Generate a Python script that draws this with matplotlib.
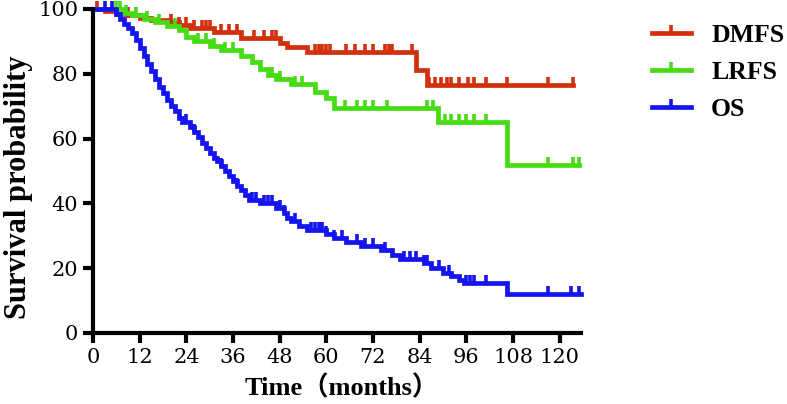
# -*- coding: UTF-8 -*-
import matplotlib as mpl
mpl.use('Agg')
import matplotlib.pyplot as plt
from matplotlib.lines import Line2D

# Kaplan-Meier steps: (time in months, survival %)
dmfs_t = [0, 3, 6, 9, 12, 15, 19, 22, 25, 31, 38, 48, 50, 55, 83, 86, 123.5]
dmfs_s = [100, 99.3, 98.6, 98.0, 97.3, 96.6, 95.9, 95.2, 94.0, 92.8, 91.2, 89.6, 88.3, 86.6, 81.2, 76.6, 76.6]
dmfs_cens = [1, 9, 20, 22, 24, 26, 28, 29, 30, 33, 35, 37, 41.5, 44, 46, 47, 57, 58, 59, 60, 61,
             65, 67.5, 70, 72, 75, 76, 77, 82, 86.5, 88, 89.5, 91, 92, 94, 96.5, 98, 101,
             106.5, 117, 123.5]

lrfs_t = [0, 8, 10, 13, 16, 19, 22, 24, 26, 30, 33, 38, 41, 43, 45, 47, 51, 57, 60, 62,
          88.7, 106.5, 125]
lrfs_s = [100, 98.9, 98.0, 97.0, 96.0, 94.8, 93.6, 91.5, 90.0, 88.6, 87.3, 85.5, 83.5, 81.5,
          79.5, 78.5, 77.0, 74.5, 72.5, 69.4, 65.2, 51.8, 51.8]
lrfs_cens = [6, 7, 8.5, 11, 14, 17, 21, 27, 29, 31, 34, 36, 46, 48, 52, 53.7, 57, 64.8, 67.8,
             70, 72, 75.5, 86, 87.5, 90.5, 92, 94, 96, 98, 101, 117, 123.4, 125]

os_t = [0, 6, 7, 8, 9, 10, 11, 12, 13, 14, 15, 16, 17, 18, 19, 20, 21, 22, 23, 25, 26, 27, 28,
        29, 30, 31, 32, 33, 34, 35, 36, 37, 38, 39, 40, 43, 47, 49, 50, 51, 53, 55, 60, 62,
        65, 69, 74, 77, 79, 85, 87, 90, 92, 94, 95.5, 106.5, 125.5]
os_s = [100, 98.5, 97, 95.5, 94, 92.5, 90.5, 88, 85.5, 83, 81, 78.5, 76, 74, 72, 70, 68.5,
        66.5, 65, 63.5, 62, 60.5, 58.5, 57, 55.5, 54, 53, 51.5, 50, 48.5, 47, 45.5, 44, 42.5,
        41, 40, 38.5, 37, 35.5, 34.5, 33, 31.8, 30.5, 29.3, 28.2, 27, 25.5, 24, 22.8, 21.5,
        20, 18.5, 17.5, 16.3, 15.4, 12, 12]
os_cens = [3, 5, 24, 26, 33, 37, 41, 42, 44, 45, 46, 48, 49, 52, 56, 57, 58, 59, 60, 62, 64,
           68, 70, 72, 75, 80, 81.5, 83, 85, 86, 89, 91.5, 96, 97, 98, 101, 117, 123, 125]

labels = ['DMFS', 'LRFS', 'OS']
colors = ['#d2300c', '#46dc14', '#1414f0']

TICK = [(0, 0), (0, 1)]  # censor mark: short stroke pointing up


def step_value(ts, ss, t):
    v = ss[0]
    for ti, si in zip(ts, ss):
        if ti <= t:
            v = si
    return v


def draw_km(ax, ts, ss, cens, color):
    ax.plot(ts, ss, drawstyle='steps-post', color=color, lw=3.4, clip_on=False,
            solid_joinstyle='miter')
    cy = [step_value(ts, ss, c) for c in cens]
    ax.plot(cens, cy, ls='none', marker=TICK, markersize=12, mew=2.6,
            mec=color, mfc=color, clip_on=False)


def main():
    fig = plt.figure(figsize=(7.87, 4.04), dpi=100)
    ax = fig.add_axes([93 / 787, 71 / 404, 488 / 787, 324 / 404])

    series = [(dmfs_t, dmfs_s, dmfs_cens), (lrfs_t, lrfs_s, lrfs_cens), (os_t, os_s, os_cens)]
    for (ts, ss, cs), c in zip(series, colors):
        draw_km(ax, ts, ss, cs, c)

    ax.set_xlim(0, 125.5)
    ax.set_ylim(0, 100)
    ax.set_xticks(range(0, 121, 12))
    ax.set_yticks(range(0, 101, 20))
    for s in ['top', 'right']:
        ax.spines[s].set_visible(False)
    for s in ['left', 'bottom']:
        ax.spines[s].set_linewidth(3)
    ax.tick_params(width=3, length=7.5, direction='out', pad=3,
                   labelsize=15, labelfontfamily='DejaVu Serif')

    ax.set_xlabel(u'Time（months）', fontsize=19, fontweight='bold',
                  family=['Liberation Serif', 'Noto Sans CJK SC'], va='center')
    ax.xaxis.set_label_coords(0.51, -0.17)
    ax.set_ylabel('Survival probability', fontsize=22, fontweight='bold',
                  family='Liberation Serif', va='center')
    ax.yaxis.set_label_coords(-0.153, 0.45)

    handles = [Line2D([0], [0], color=c, lw=3.4, marker=TICK, markersize=12, mew=2.6,
                      mec=c, mfc=c) for c in colors]
    fig.legend(handles, labels, loc='upper left', bbox_to_anchor=(652 / 787, 1 - 24 / 404),
               frameon=False, handlelength=1.5, handletextpad=0.8, labelspacing=0.55,
               borderpad=0, borderaxespad=0, numpoints=1,
               prop={'family': 'Liberation Serif', 'weight': 'bold', 'size': 18.5})

    fig.savefig('out.png', dpi=100)


if __name__ == "__main__":
    main()
